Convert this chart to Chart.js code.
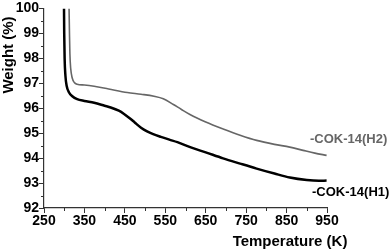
<!DOCTYPE html>
<html>
<head>
<meta charset="utf-8">
<script src="https://cdn.jsdelivr.net/npm/chart.js@4/dist/chart.umd.min.js"></script>
<style>
html,body{margin:0;padding:0;background:#fff;}
#wrap{width:392px;height:251px;position:relative;}
</style>
</head>
<body>
<div id="wrap"><canvas id="c" width="392" height="251"></canvas></div>
<script>
// Temperature (K) and weight (%)
const h1Temp = [299.5,300,301,303,306,312,320,332,350,374,400,415,435,448,462,475,490,505,520,539,560,580,615,650,693,735,776,820,858,900,930,949];
const h1Weight = [100.0,99.0,98.0,97.3,96.9,96.63,96.48,96.36,96.29,96.22,96.1,96.03,95.9,95.77,95.6,95.42,95.22,95.07,94.96,94.85,94.74,94.64,94.42,94.23,93.99,93.78,93.58,93.38,93.22,93.12,93.09,93.1];
const h2Temp = [312,313,314,316,320,325,332,350,374,410,456,490,522,545,570,590,611,650,693,735,776,820,858,891,920,949];
const h2Weight = [100.0,99.0,98.2,97.6,97.2,97.03,96.96,96.93,96.88,96.77,96.63,96.56,96.48,96.38,96.15,95.95,95.75,95.45,95.17,94.92,94.71,94.55,94.44,94.31,94.2,94.11];
const seriesNames = ['-COK-14(H1)','-COK-14(H2)'];
const xTicks = [250,350,450,550,650,750,850,950];
const yTicks = [92,93,94,95,96,97,98,99,100];

const FONT = '"Liberation Sans", Arial, sans-serif';
const toPts = (xs, ys) => xs.map((x, i) => ({x: x, y: ys[i]}));

const extras = {
  id: 'extras',
  afterDraw(chart) {
    const ctx = chart.ctx;
    const xs = chart.scales.x, ys = chart.scales.y;
    const a = chart.chartArea;
    ctx.save();
    // minor ticks
    ctx.strokeStyle = '#333';
    ctx.lineWidth = 1;
    ctx.beginPath();
    for (let i = 0; i < xTicks.length - 1; i++) {
      const v = (xTicks[i] + xTicks[i + 1]) / 2;
      const px = Math.round(xs.getPixelForValue(v)) + 0.5;
      ctx.moveTo(px, a.bottom); ctx.lineTo(px, a.bottom + 3);
    }
    for (let i = 0; i < yTicks.length - 1; i++) {
      const v = (yTicks[i] + yTicks[i + 1]) / 2;
      const py = Math.round(ys.getPixelForValue(v)) + 0.5;
      ctx.moveTo(a.left, py); ctx.lineTo(a.left - 3, py);
    }
    ctx.stroke();
    // series labels
    ctx.font = 'bold 13px ' + FONT;
    ctx.textBaseline = 'middle';
    ctx.textAlign = 'left';
    ctx.fillStyle = '#666';
    ctx.fillText(seriesNames[1], xs.getPixelForValue(908), ys.getPixelForValue(94.75));
    ctx.fillStyle = '#000';
    ctx.fillText(seriesNames[0], xs.getPixelForValue(913), ys.getPixelForValue(92.64));
    // axis titles
    ctx.font = 'bold 15px ' + FONT;
    ctx.textAlign = 'center';
    ctx.fillStyle = '#000';
    ctx.fillText('Temperature (K)', 290, 242);
    ctx.translate(9, 55);
    ctx.rotate(-Math.PI / 2);
    ctx.fillText('Weight (%)', 0, 0);
    ctx.restore();
  }
};

new Chart(document.getElementById('c'), {
  type: 'line',
  data: {
    datasets: [
      {label: seriesNames[0], data: toPts(h1Temp, h1Weight), borderColor: '#000', borderWidth: 2.5, pointRadius: 0, cubicInterpolationMode: 'monotone', fill: false},
      {label: seriesNames[1], data: toPts(h2Temp, h2Weight), borderColor: '#666', borderWidth: 1.6, pointRadius: 0, cubicInterpolationMode: 'monotone', fill: false}
    ]
  },
  options: {
    responsive: false,
    animation: false,
    devicePixelRatio: 1,
    layout: {padding: {left: 0, top: 7, right: 65, bottom: 0}},
    plugins: {legend: {display: false}, tooltip: {enabled: false}},
    scales: {
      x: {
        type: 'linear', min: 250, max: 950,
        afterBuildTicks: s => { s.ticks = xTicks.map(v => ({value: v})); },
        afterFit: s => { s.height = 43; },
        grid: {drawOnChartArea: false, drawTicks: true, tickLength: 5, tickColor: '#333'},
        border: {display: true, color: '#333', width: 1.2},
        ticks: {color: '#000', padding: 0, font: {family: FONT, size: 14, weight: 'bold'}, maxRotation: 0, autoSkip: false}
      },
      y: {
        type: 'linear', min: 92, max: 100,
        afterBuildTicks: s => { s.ticks = yTicks.map(v => ({value: v})); },
        afterFit: s => { s.width = 44; },
        grid: {drawOnChartArea: false, drawTicks: true, tickLength: 5, tickColor: '#333'},
        border: {display: true, color: '#333', width: 1.2},
        ticks: {color: '#000', padding: 0, font: {family: FONT, size: 14, weight: 'bold'}, autoSkip: false}
      }
    }
  },
  plugins: [extras]
});
</script>
</body>
</html>
